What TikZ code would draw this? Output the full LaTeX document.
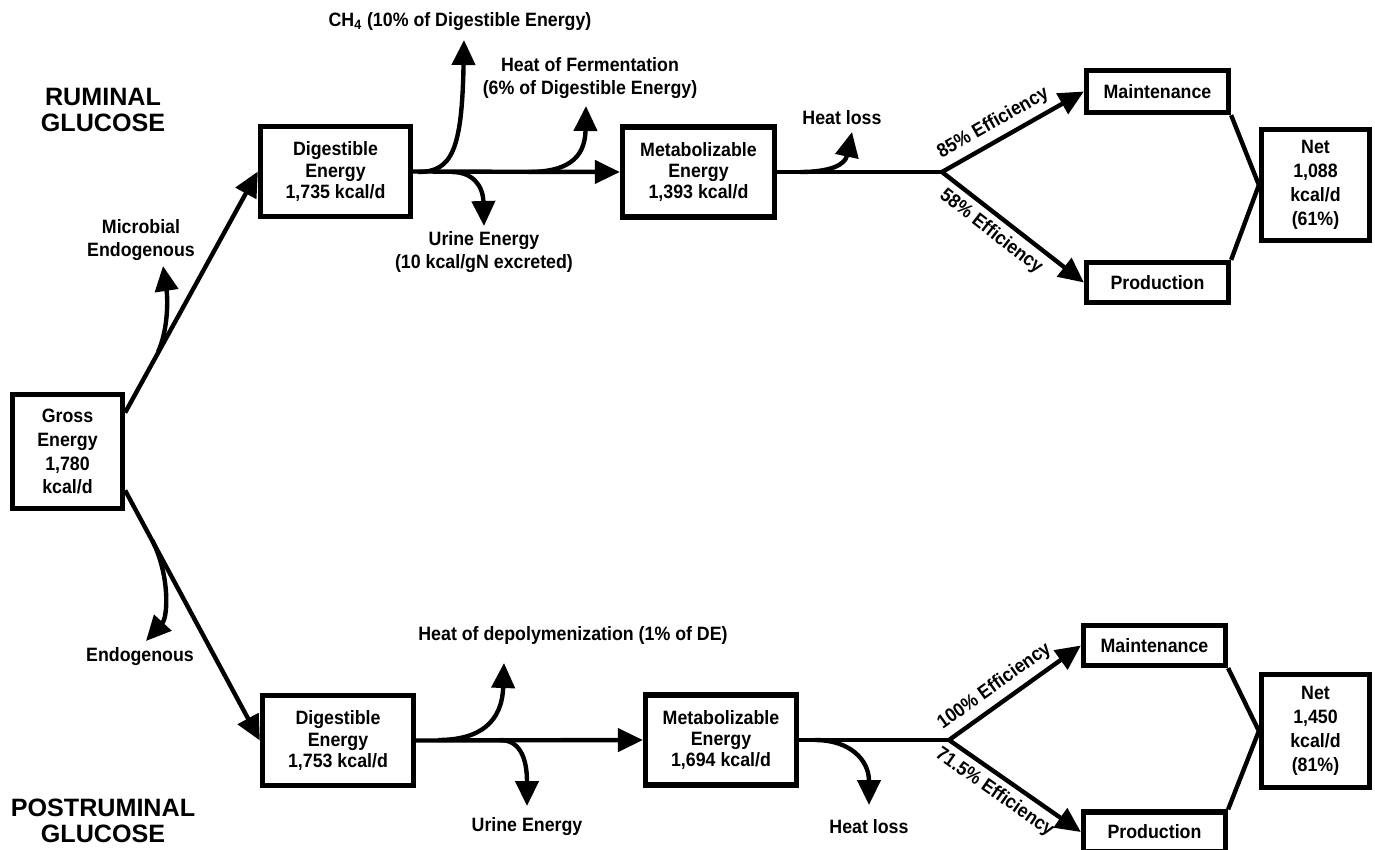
\documentclass[tikz,border=0pt]{standalone}
\usepackage{fontspec}
\setmainfont{Liberation Sans}[FakeStretch=0.92]
\newfontfamily\titlefont{Liberation Sans}
\usetikzlibrary{arrows.meta, positioning}

\begin{document}
\begin{tikzpicture}[
  x=0.02cm, y=-0.02cm,
  box/.style={rectangle, draw, line width=3pt, align=center, inner sep=0pt, font=\bfseries\fontsize{11}{12}\selectfont},
  tallbox/.style={box, font=\bfseries\fontsize{11}{13.6}\selectfont},
  arrow/.style={-{Triangle[length=5mm, width=4.6mm]}, line width=2.5pt},
  flow/.style={line width=2.5pt},
  lbl/.style={align=center, font=\bfseries\fontsize{11}{12.8}\selectfont},
  title/.style={align=center, font=\titlefont\bfseries\fontsize{14.3}{15}\selectfont}
]
  \useasboundingbox (0,0) rectangle (1375,849);

  % Gross energy
  \node[tallbox, minimum width=2.2cm, minimum height=2.28cm] (ge) at (67.5,451.5) {Gross\\Energy\\1,780\\kcal/d};

  % Ruminal glucose
  \node[title] (rumtitle) at (103,110) {RUMINAL\\GLUCOSE};
  \node[box, minimum width=3cm, minimum height=1.8cm] (de1) at (335.5,171.5) {Digestible\\Energy\\1,735 kcal/d};
  \node[box, minimum width=3.04cm, minimum height=1.8cm] (me1) at (698.5,172) {Metabolizable\\Energy\\1,393 kcal/d};
  \node[box, minimum width=2.84cm, minimum height=0.84cm] (mt1) at (1157.5,91.5) {Maintenance};
  \node[box, minimum width=2.84cm, minimum height=0.8cm] (pr1) at (1157.5,282.5) {Production};
  \node[tallbox, minimum width=2.16cm, minimum height=2.22cm] (net1) at (1315.5,185) {Net\\1,088\\kcal/d\\(61\%)};
  \coordinate (split1) at (942,172);

  \draw[arrow] (ge.34) -- (de1.west);
  \draw[arrow] (de1.east) -- (me1.west);
  \draw[flow] (me1.east) -- (split1);
  \draw[arrow] (split1) -- node[pos=0.42, above, sloped, lbl] {85\% Efficiency} (mt1.west);
  \draw[arrow] (split1) -- node[pos=0.42, below, sloped, lbl] {58\% Efficiency} (pr1.west);
  \draw[flow] (mt1.south east) -- (net1.west) -- (pr1.north east);

  % losses, ruminal
  \coordinate (mbs) at (158,352);
  \coordinate (mbt) at (163,266);
  \draw[arrow] (mbs) .. controls (168,330) and (168,300) .. (mbt);
  \node[lbl] (microbial) at (141,240) {Microbial\\Endogenous};

  \coordinate (ch4s) at (418,172);
  \coordinate (ch4t) at (464,40);
  \draw[arrow] (ch4s) .. controls (452,172) and (462,150) .. (ch4t);
  \node[lbl] (ch4) at (460,22) {CH\textsubscript{4} (10\% of Digestible Energy)};

  \coordinate (u1s) at (452,172);
  \coordinate (u1t) at (484,226);
  \draw[arrow] (u1s) .. controls (472,172) and (483,185) .. (u1t);
  \node[lbl] (urine1) at (484,252) {Urine Energy\\(10 kcal/gN excreted)};

  \coordinate (hfs) at (528,172);
  \coordinate (hft) at (586,106);
  \draw[arrow] (hfs) .. controls (565,172) and (585,160) .. (hft);
  \node[lbl] (ferment) at (590,78) {Heat of Fermentation\\(6\% of Digestible Energy)};

  \coordinate (hl1s) at (800,172);
  \coordinate (hl1t) at (852,132);
  \draw[arrow] (hl1s) .. controls (830,172) and (845,165) .. (hl1t);
  \node[lbl] (heat1) at (842,118) {Heat loss};

  % Postruminal glucose
  \node[title] (posttitle) at (103,821) {POSTRUMINAL\\GLUCOSE};
  \node[box, minimum width=3.02cm, minimum height=1.8cm] (de2) at (338,740.5) {Digestible\\Energy\\1,753 kcal/d};
  \node[box, minimum width=3.02cm, minimum height=1.8cm] (me2) at (721,740) {Metabolizable\\Energy\\1,694 kcal/d};
  \node[box, minimum width=2.84cm, minimum height=0.8cm] (mt2) at (1154.5,645.5) {Maintenance};
  \node[box, minimum width=2.84cm, minimum height=0.8cm] (pr2) at (1154.5,832) {Production};
  \node[tallbox, minimum width=2.16cm, minimum height=2.26cm] (net2) at (1315.5,731) {Net\\1,450\\kcal/d\\(81\%)};
  \coordinate (split2) at (949,740);

  \draw[arrow] (ge.-34) -- (de2.west);
  \draw[arrow] (de2.east) -- (me2.west);
  \draw[flow] (me2.east) -- (split2);
  \draw[arrow] (split2) -- node[pos=0.42, above, sloped, lbl] {100\% Efficiency} (mt2.west);
  \draw[arrow] (split2) -- node[pos=0.42, below, sloped, lbl] {71.5\% Efficiency} (pr2.west);
  \draw[flow] (mt2.south east) -- (net2.west) -- (pr2.north east);

  % losses, postruminal
  \coordinate (ens) at (152,540);
  \coordinate (ent) at (146,641);
  \draw[arrow] (ens) .. controls (170,575) and (168,617) .. (ent);
  \node[lbl] (endog) at (140,657) {Endogenous};

  \coordinate (dps) at (438,740);
  \coordinate (dpt) at (504,663);
  \draw[arrow] (dps) .. controls (480,740) and (502,722) .. (dpt);
  \node[lbl] (depoly) at (573,635) {Heat of depolymenization (1\% of DE)};

  \coordinate (u2s) at (500,740);
  \coordinate (u2t) at (527,806);
  \draw[arrow] (u2s) .. controls (518,740) and (527,755) .. (u2t);
  \node[lbl] (urine2) at (527,827) {Urine Energy};

  \coordinate (hl2s) at (815,740);
  \coordinate (hl2t) at (869,805);
  \draw[arrow] (hl2s) .. controls (850,740) and (869,760) .. (hl2t);
  \node[lbl] (heat2) at (869,827) {Heat loss};
\end{tikzpicture}
\end{document}
